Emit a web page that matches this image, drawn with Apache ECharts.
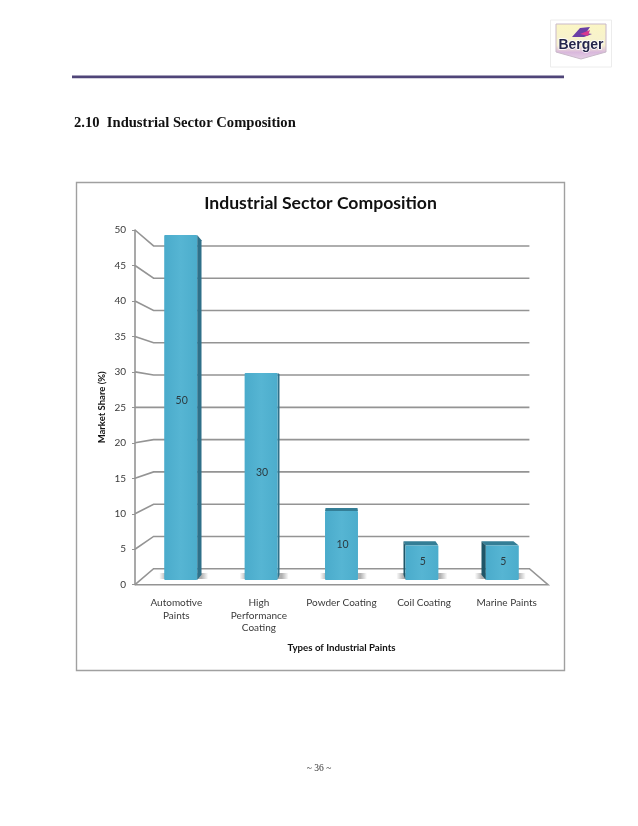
<!DOCTYPE html>
<html><head><meta charset="utf-8">
<style>html,body{margin:0;padding:0;background:#fff}#c{width:638px;height:826px}</style>
<script src="https://cdn.jsdelivr.net/npm/echarts@6/dist/echarts.min.js"></script>
</head><body><div id="c"></div>
<script>
const categories = ['Automotive\nPaints','High\nPerformance\nCoating','Powder Coating','Coil Coating','Marine Paints'];
const shares = [50,30,10,5,5];
const yTicks = [0,5,10,15,20,25,30,35,40,45,50];
const chartTitle = 'Industrial Sector Composition';
const sectionHeading = '2.10  Industrial Sector Composition';
const yName = 'Market Share (%)';
const xName = 'Types of Industrial Paints';
const pageNo = '~ 36 ~';

const FONT = 'Lato';
const WALL_DEPTH = 0.09, BAR_DEPTH = 0.03;
const LINE = '#949494';
function toward(p, van, k){ return [p[0]+(van[0]-p[0])*k, p[1]+(van[1]-p[1])*k]; }
function vanish(cs){ return [cs.x+cs.width/2, cs.y+cs.height/2]; }

function renderWall(params, api){
  const cs = params.coordSys, van = vanish(cs), v = api.value(1);
  const y = api.coord([0,v])[1];
  const fl = [cs.x,y], fr = [cs.x+cs.width,y];
  const bl = toward(fl,van,WALL_DEPTH), br = toward(fr,van,WALL_DEPTH);
  const pts = v===0 ? [fl,bl,br,fr,fl] : [fl,bl,br];
  return {type:'polyline',shape:{points:pts},style:{stroke:LINE,lineWidth:1.6,fill:null},silent:true};
}
function renderBar(params, api){
  const cs = params.coordSys, van = vanish(cs);
  const c = api.coord([api.value(0),0]), top = api.coord([api.value(0),api.value(1)]);
  const w = api.size([1,0])[0]*0.41;
  const x0 = c[0]-w/2, x1 = c[0]+w/2, y0 = top[1], y1 = c[1];
  const tl=[x0,y0], tr=[x1,y0], bl=[x0,y1], br=[x1,y1];
  const btl=toward(tl,van,BAR_DEPTH), btr=toward(tr,van,BAR_DEPTH);
  const bbl=toward(bl,van,BAR_DEPTH), bbr=toward(br,van,BAR_DEPTH);
  const kids = [];
  const sx0 = x0-(van[0]-x0>0?5:9+ (van[0]-x0<-100?2:0)), sx1 = x1+(van[0]-x1>0?11:(van[0]-x1<-100?7:9));
  kids.push({type:'rect',shape:{x:sx0,y:y1-7,width:sx1-sx0,height:6},style:{fill:{type:'linear',x:0,y:0,x2:1,y2:0,colorStops:[
    {offset:0,color:'rgba(150,150,150,0)'},{offset:0.14,color:'rgba(150,150,150,.75)'},{offset:0.86,color:'rgba(150,150,150,.75)'},{offset:1,color:'rgba(150,150,150,0)'}]}}});
  if (btl[1] < tl[1]) kids.push({type:'polygon',shape:{points:[tl,tr,btr,btl]},style:{fill:'#347e96'}});
  if (btr[0] > tr[0]+0.5) kids.push({type:'polygon',shape:{points:[tr,btr,bbr,br]},style:{fill:'#2f7089'}});
  if (btl[0] < tl[0]-0.5) kids.push({type:'polygon',shape:{points:[tl,btl,bbl,bl]},style:{fill:'#1f5668'}});
  kids.push({type:'rect',shape:{x:x0,y:y0,width:w,height:y1-y0,r:1},style:{fill:{type:'linear',x:0,y:0,x2:1,y2:0,colorStops:[
    {offset:0,color:'#4aabcb'},{offset:0.5,color:'#56b5d3'},{offset:1,color:'#4cadcc'}]}}});
  kids.push({type:'text',style:{text:String(api.value(1)),x:c[0]+1,y:y0+(y1-y0)*0.48,align:'center',verticalAlign:'middle',
    fontFamily:FONT,fontSize:10.5,fill:'#2b3a40'}});
  return {type:'group',children:kids};
}

const chart = echarts.init(document.getElementById('c'),null,{renderer:'canvas'});
chart.setOption({
  animation:false,
  backgroundColor:'#fff',
  title:{text:chartTitle,left:315.5,top:189,textAlign:'center',textStyle:{fontFamily:FONT,fontWeight:'bold',fontSize:17.6,color:'#111'}},
  grid:[
    {left:135,width:413,top:230,height:354.7,containLabel:false},
    {left:140.5,width:402,top:235,height:345}
  ],
  xAxis:[
    {type:'category',gridIndex:0,data:categories,
     axisLine:{show:false},axisTick:{show:false},
     axisLabel:{interval:0,margin:12,fontFamily:FONT,fontSize:10,lineHeight:12.5,color:'#3a3a3a',verticalAlign:'top'},
     name:xName,nameLocation:'middle',nameGap:58,nameMoveOverlap:false,
     nameTextStyle:{fontFamily:FONT,fontSize:9.7,fontWeight:'bold',color:'#111'}},
    {type:'category',gridIndex:1,data:categories,show:false}
  ],
  yAxis:[
    {type:'value',gridIndex:0,min:0,max:50,interval:5,
     axisLine:{show:true,lineStyle:{color:LINE,width:1.6}},
     axisTick:{show:true,length:3,lineStyle:{color:LINE,width:1}},
     splitLine:{show:false},
     axisLabel:{margin:9,fontFamily:FONT,fontSize:10,color:'#3a3a3a'},
     name:yName,nameLocation:'middle',nameGap:28,nameRotate:90,nameMoveOverlap:false,
     nameTextStyle:{fontFamily:FONT,fontSize:9.5,fontWeight:'bold',color:'#111'}},
    {type:'value',gridIndex:1,min:0,max:50,interval:5,show:false,splitLine:{show:false}}
  ],
  series:[
    {type:'custom',xAxisIndex:0,yAxisIndex:0,clip:false,z:2,silent:true,renderItem:renderWall,
     encode:{x:0,y:1},data:yTicks.map(t=>[0,t])},
    {type:'custom',xAxisIndex:1,yAxisIndex:1,clip:false,z:3,silent:true,renderItem:renderBar,
     encode:{x:0,y:1},data:shares.map((v,i)=>[i,v])}
  ],
  graphic:{elements:[
    {type:'rect',z:-1,shape:{x:76.5,y:182.5,width:488,height:488},style:{fill:'#fff',stroke:'#a0a0a0',lineWidth:1.4}},
    {type:'rect',z:-1,shape:{x:72,y:75.5,width:492,height:2.8},style:{fill:'#4f4578'}},
    {type:'text',z:1,style:{text:sectionHeading,x:74,y:123,verticalAlign:'middle',fontFamily:'Liberation Serif',fontWeight:'bold',fontSize:14.6,fill:'#111'}},
    {type:'text',z:1,style:{text:pageNo,x:319,y:768,align:'center',verticalAlign:'middle',fontFamily:'Liberation Serif',fontSize:9.5,fill:'#333'}},
    {type:'rect',z:1,shape:{x:550.5,y:20,width:61,height:47},style:{fill:'#fff',stroke:'#ececec',lineWidth:1}},
    {type:'polygon',z:1,shape:{points:[[556,24],[606,24],[606,52],[581,59],[556,52]]},style:{stroke:'#c9b9c9',lineWidth:1,fill:{type:'linear',x:0,y:0,x2:0,y2:1,colorStops:[{offset:0,color:'#fbf6c4'},{offset:.6,color:'#f6f1d0'},{offset:.8,color:'#d9b8dc'},{offset:1,color:'#e6d3e8'}]}}},
    {type:'polygon',z:2,shape:{points:[[572,37],[580,28],[590,27],[586,33],[592,34],[584,37]]},style:{fill:'#6a3fa6'}},
    {type:'polygon',z:2,shape:{points:[[580,34],[590,30],[588,36]]},style:{fill:'#d8388f'}},
    {type:'text',z:3,style:{text:'Berger',x:581,y:45,align:'center',verticalAlign:'middle',fontFamily:'Liberation Sans',fontWeight:'bold',fontSize:14,fill:'#26264a',stroke:'#fff',lineWidth:1.5}}
  ]}
});
</script></body></html>
